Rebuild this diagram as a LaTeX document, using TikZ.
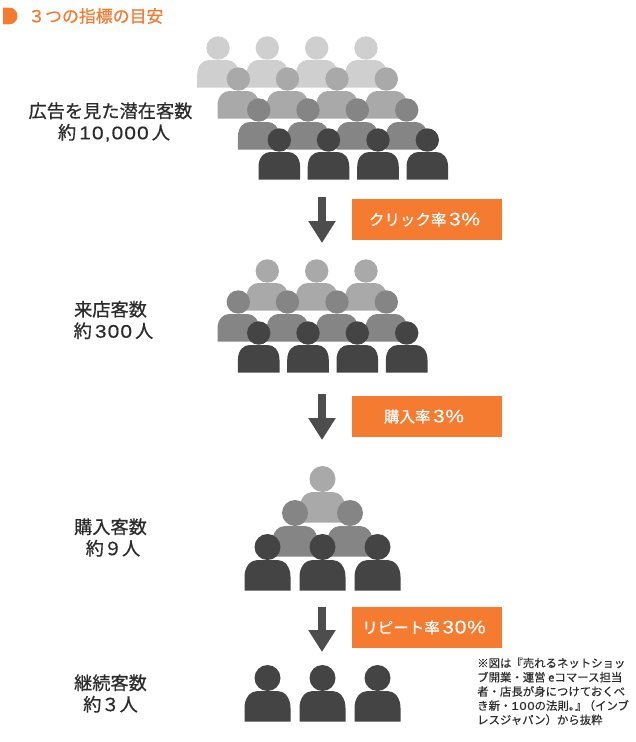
\documentclass[tikz,border=0pt]{standalone}
\usepackage{fontspec}
\usetikzlibrary{arrows.meta}
\newfontfamily\jpb{Noto Sans CJK JP}[FakeBold=0.6]
\newfontfamily\jpn{Noto Sans CJK JP}[FakeBold=0.3]
\newfontfamily\dgfont{Liberation Sans}[LetterSpace=6,FakeBold=0.5,FakeStretch=1.15]
\newfontfamily\dglight{Liberation Sans}[LetterSpace=4,FakeBold=0.15,FakeStretch=1.15]
\newcommand{\dg}[1]{{\dgfont #1}}
\newcommand{\dgbox}[1]{{\fontsize{18.2}{18}\selectfont\dglight #1}}
\definecolor{gA}{HTML}{CFCFCF}
\definecolor{gB}{HTML}{A9A9A9}
\definecolor{gC}{HTML}{858585}
\definecolor{gD}{HTML}{444444}
\definecolor{orng}{HTML}{F47B30}
\definecolor{arrowgray}{HTML}{4D4D4D}
\definecolor{txt}{HTML}{2B2B2B}
\newcommand{\persona}[3]{%
  \fill[#3] (#1,#2) circle[radius=11.7];
  \fill[#3] (#1-20.8,#2+39.7) -- (#1-20.8,#2+27) .. controls (#1-20.8,#2+17) and (#1-15,#2+12) .. (#1-9,#2+12)
    -- (#1+9,#2+12) .. controls (#1+15,#2+12) and (#1+20.8,#2+17) .. (#1+20.8,#2+27) -- (#1+20.8,#2+39.7) -- cycle;}
\newcommand{\personb}[3]{%
  \fill[#3] (#1,#2) circle[radius=13];
  \fill[#3] (#1-23,#2+43.7) -- (#1-23,#2+30) .. controls (#1-23,#2+19) and (#1-16.5,#2+13) .. (#1-10,#2+13)
    -- (#1+10,#2+13) .. controls (#1+16.5,#2+13) and (#1+23,#2+19) .. (#1+23,#2+30) -- (#1+23,#2+43.7) -- cycle;}
\tikzset{
  txtlabel/.style={font=\jpb\fontsize{18.2}{21.5}\selectfont,text=txt,align=center,inner sep=0pt},
  ratebox/.style={fill=orng,minimum width=150,minimum height=41,inner sep=0pt,text=white,font=\jpb\fontsize{15.5}{18}\selectfont},
  flow/.style={draw=arrowgray,line width=8pt,-{Triangle[width=26pt,length=22pt]}},
}
\begin{document}
\begin{tikzpicture}[x=1pt,y=-1pt]
\useasboundingbox (0,0) rectangle (636,742);
% title
\fill[orng] (3,7.5) -- (9,7.5) .. controls (14,7.5) and (17.5,11.5) .. (17.5,16) .. controls (17.5,20.5) and (14,24.3) .. (9,24.3) -- (3,24.3) -- cycle;
\node[anchor=west,inner sep=0pt,text=orng,font=\jpb\fontsize{16.9}{20}\selectfont] (title) at (28,16) {３つの指標の目安};
% group 1
\foreach \x in {218,267.3,316.7,366} {\persona{\x}{48}{gA}}
\foreach \x in {238.3,287.5,337,386.3} {\persona{\x}{79}{gB}}
\foreach \x in {258.7,308,357.3,406.7} {\persona{\x}{110}{gC}}
\foreach \x in {279.3,328.5,378,427.3} {\persona{\x}{140}{gD}}
% group 2
\foreach \x in {267.3,316.7,366} {\persona{\x}{271}{gB}}
\foreach \x in {238.3,287.5,337,386.3} {\persona{\x}{302}{gC}}
\foreach \x in {258.7,308,357.3,406.7} {\persona{\x}{333}{gD}}
% group 3
\personb{322.5}{479}{gB}
\foreach \x in {295,350} {\personb{\x}{513}{gC}}
\foreach \x in {267.5,322.5,377.5} {\personb{\x}{547}{gD}}
% group 4
\foreach \x in {267.5,322.5,377.5} {\personb{\x}{678}{gD}}
% labels
\node[txtlabel] (l1) at (110.5,122) {広告を見た潜在客数\\\hspace*{7pt}約\,\dg{10,000}\,人};
\node[txtlabel] (l2) at (110.5,320) {来店客数\\\hspace*{6pt}約\,\dg{300}\,人};
\node[txtlabel] (l3) at (110.5,537.5) {購入客数\\\hspace*{5pt}約９人};
\node[txtlabel] (l4) at (110.5,693.5) {継続客数\\約３人};
% rate boxes
\node[ratebox] (r1) at (427,219.5) {クリック率\,\dgbox{3\%}\hspace*{5pt}};
\node[ratebox] (r2) at (427,416.5) {購入率\,\dgbox{3\%}\hspace*{6pt}};
\node[ratebox] (r3) at (427,627.5) {リピート率\,\dgbox{30\%}\hspace*{6pt}};
% arrows
\coordinate (a1s) at (322,197); \coordinate (a1e) at (322,243);
\coordinate (a2s) at (322,394); \coordinate (a2e) at (322,440);
\coordinate (a3s) at (322,607); \coordinate (a3e) at (322,652);
\draw[flow] (a1s) -- (a1e);
\draw[flow] (a2s) -- (a2e);
\draw[flow] (a3s) -- (a3e);
% note
\node[anchor=north west,inner sep=0pt,align=left,text=txt,font=\jpn\fontsize{11.4}{14.2}\selectfont] (note) at (477,657.5)
 {※図は『売れるネットショッ\\ブ開業・運営 eコマース担当\\者・店長が身につけておくべ\\き新・\dg{100}の法則。\kern-5pt』\kern-3pt（インブ\\レスジャパン）から抜粋};
\end{tikzpicture}
\end{document}
